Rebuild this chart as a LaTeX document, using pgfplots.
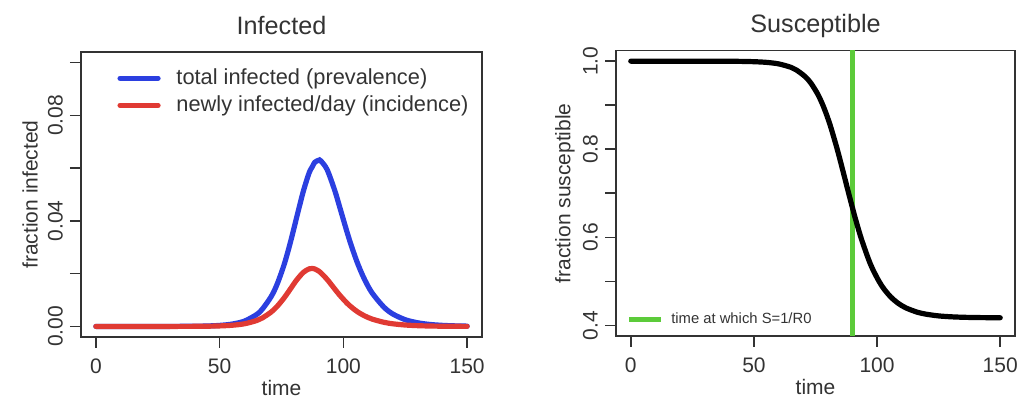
\documentclass[border=0pt]{standalone}
\usepackage{fontspec}
\setmainfont{Liberation Sans}
\usepackage{pgfplots}
\pgfplotsset{compat=1.18}
\definecolor{prevblue}{HTML}{2B3FE0}
\definecolor{incred}{HTML}{E03A33}
\definecolor{srgreen}{HTML}{5CCB3A}
\definecolor{ink}{HTML}{333333}

\pgfplotsset{rbase/.style={
  scale only axis,
  axis line style={ink,line width=0.8pt},
  tick align=outside, major tick length=5.5pt,
  tick style={ink,line width=0.8pt},
  xtick pos=left, ytick pos=left,
  font=\fontsize{10.5}{12}\selectfont,
  text=ink,
  /pgf/number format/assume math mode=true,
  xmin=-6, xmax=156,
  xtick={0,50,100,150}, xticklabels={0,50,100,150},
  xticklabel style={yshift=-2pt},
  yticklabel style={xshift=0pt,rotate=90,anchor=south},
  xlabel={time},
  xlabel style={at={(axis description cs:0.5,-0.179)},anchor=center},
  title style={font=\fontsize{12.6}{14}\selectfont,at={(0.5,1.02)},anchor=base},
  legend cell align=left,
}}

\begin{document}
\begin{tikzpicture}
\useasboundingbox (0,0) rectangle (508.5pt,200pt);
\begin{axis}[rbase,at={(40.5pt,31.5pt)},anchor=south west,
  width=200.5pt,height=142.5pt,
  ymin=-0.004,ymax=0.104,
  ytick={0,0.02,0.04,0.06,0.08,0.1},yticklabels={0.00,,0.04,,0.08,},
  ylabel={fraction infected},
  ylabel style={at={(axis description cs:-0.127,0.5)},anchor=center},
  title={Infected},
  legend image code/.code={\draw[#1] (0pt,0pt) -- (19pt,0pt); \path[draw=none,fill=none] (0pt,0pt) -- (27pt,0pt);},
  legend style={draw=none,fill=none,at={(axis description cs:0.075,0.965)},anchor=north west,
    font=\fontsize{10.9}{12}\selectfont,nodes={inner sep=1.2pt},row sep=1.8pt}]
\addplot[prevblue,line width=2.6pt,line cap=round,smooth] coordinates {
(0,0.0000001)(10,0.0000006)(20,0.000003)(30,0.000015)(40,0.000077)(45,0.000174)
(50,0.000394)(55,0.000890)(60,0.002011)(65,0.004542)(67.23,0.006532)(70.78,0.011249)
(73.14,0.015804)(75.92,0.023025)(78.00,0.02976)(79.71,0.035979)(81.21,0.041654)
(83.82,0.051238)(86.17,0.058212)(87.50,0.060611)(88.46,0.062217)(90.02,0.06297)
(90.81,0.062811)(93.42,0.059449)(96.54,0.051442)(98.45,0.045429)(100.80,0.037902)
(102.52,0.032596)(104.66,0.026651)(106.42,0.022314)(108.63,0.017661)(111.61,0.012679)
(116.33,0.007353)(120,0.0047)(125,0.00255)(130,0.00139)(135,0.00075)(140,0.00041)
(145,0.00022)(150,0.00012)};
\addlegendentry{total infected (prevalence)}
\addplot[incred,line width=2.6pt,line cap=round,smooth] coordinates {
(0,0)(20,0.0000015)(30,0.0000076)(40,0.0000385)(45,0.000087)(50,0.000197)
(55,0.000444)(60,0.000999)(65,0.002239)(67.23,0.003201)(70.78,0.005428)(73.14,0.007507)
(75.92,0.010649)(78.00,0.013392)(79.71,0.015741)(81.21,0.017703)(83.82,0.020495)
(86.17,0.021830)(87.50,0.021971)(88.46,0.021776)(90.02,0.02099)(90.81,0.020414)
(93.42,0.017835)(96.54,0.014147)(98.45,0.011925)(100.80,0.009476)(102.52,0.007905)
(104.66,0.006263)(106.42,0.005132)(108.63,0.003974)(111.61,0.002789)(116.33,0.001581)
(120,0.001000)(125,0.000538)(130,0.000292)(135,0.000157)(140,0.0000857)(145,0.000046)
(150,0.000025)};
\addlegendentry{newly infected/day (incidence)}
\end{axis}

\begin{axis}[rbase,at={(308pt,32pt)},anchor=south west,
  width=199.5pt,height=142.7pt,
  ymin=0.376,ymax=1.024,
  ytick={0.4,0.5,0.6,0.7,0.8,0.9,1.0},yticklabels={0.4,,0.6,,0.8,,1.0},
  ylabel={fraction susceptible},
  ylabel style={at={(axis description cs:-0.128,0.5)},anchor=center},
  title={Susceptible},
  legend image code/.code={\draw[#1] (0pt,0pt) -- (16pt,0pt); \path[draw=none,fill=none] (0pt,0pt) -- (19.9pt,0pt);},
  legend style={draw=none,fill=none,at={(axis description cs:0.01,0.0095)},anchor=south west,
    font=\fontsize{7.4}{8}\selectfont,nodes={inner sep=1.2pt}}]
\addplot[srgreen,line width=2.7pt] coordinates {(90,0.3) (90,1.1)};
\addlegendentry{time at which S=1/R0}
\addplot[black,line width=2.6pt,line cap=round,smooth,forget plot] coordinates {
(0,1)(20,1)(30,0.99995)(40,0.99977)(45,0.99947)(50,0.9988)(55,0.99729)(60,0.99387)
(65,0.9861)(67.23,0.98)(70.78,0.965)(73.14,0.95)(75.92,0.925)(78.00,0.9)(79.71,0.875)
(81.21,0.85)(83.82,0.8)(86.17,0.75)(88.46,0.7)(90.02,0.6667)(90.81,0.65)(93.42,0.6)
(96.54,0.55)(98.45,0.525)(100.80,0.5)(102.52,0.485)(104.66,0.47)(106.42,0.46)
(108.63,0.45)(111.61,0.44)(116.33,0.43)(120,0.4254)(125,0.4216)(130,0.4196)
(135,0.4185)(140,0.4179)(145,0.4176)(150,0.4174)};
\end{axis}
\end{tikzpicture}
\end{document}
